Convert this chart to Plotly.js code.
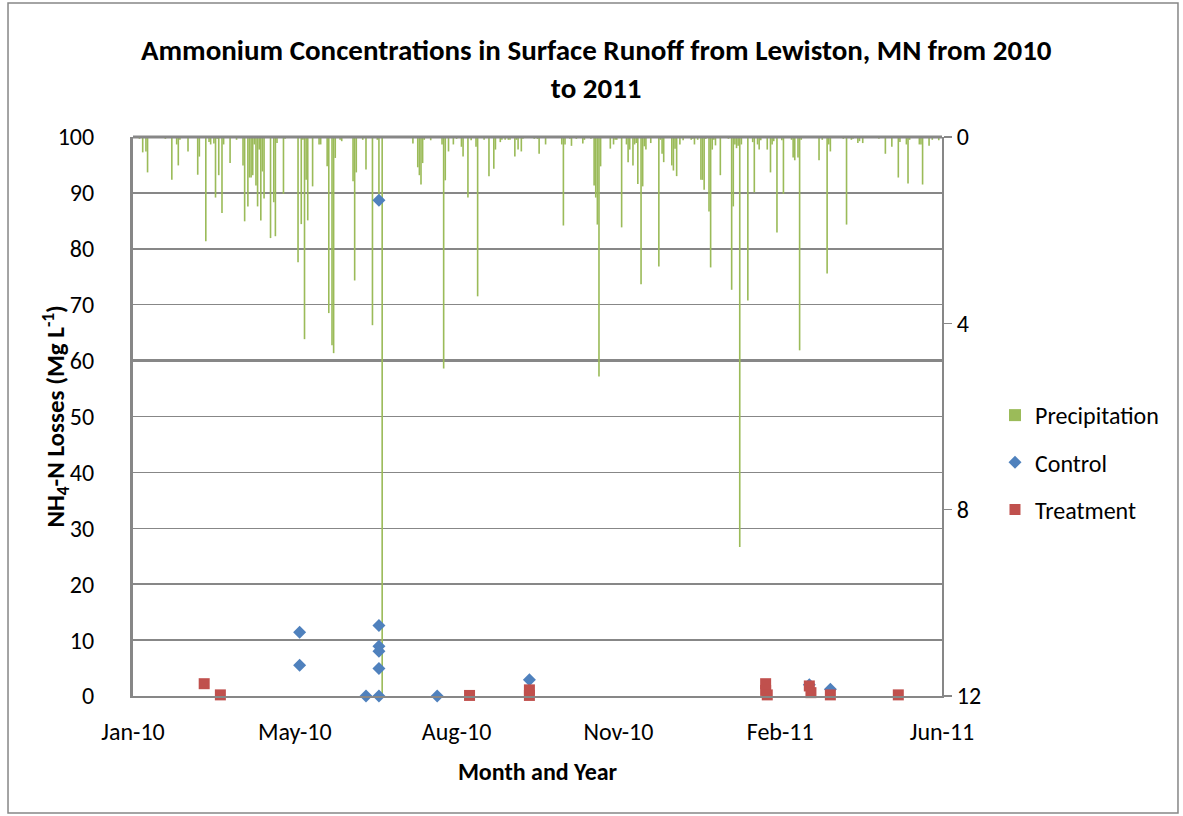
<!DOCTYPE html>
<html>
<head>
<meta charset="utf-8">
<script src="https://cdn.plot.ly/plotly-3.0.1.min.js"></script>
<style>html,body{margin:0;padding:0;background:#fff;}</style>
</head>
<body>
<div id="chart" style="width:1183px;height:816px;"></div>
<script>
// Day numbers count from 1 = 1 Jan 2010 (values above 365 run into 2011)
const precipDays = [28,30,32,33,44,48,51,52,53,58,64,65,69,71,72,74,75,76,77,79,80,84,88,92,93,95,96,97,98,99,100,101,102,103,104,105,109,111,112,113,117,118,126,128,129,130,131,132,135,139,140,144,145,147,148,149,152,153,160,161,162,166,168,172,175,176,178,
197,200,201,202,203,204,208,215,216,217,219,222,224,227,228,231,233,236,237,241,244,247,248,251,252,254,256,257,260,261,262,264,265,272,274,275,279,289,290,291,294,295,298,302,303,307,309,310,311,312,313,319,321,322,323,326,329,330,331,333,334,335,336,338,339,340,341,344,349,
350,351,352,357,358,359,360,362,364,369,370,371,373,375,376,377,378,380,381,382,383,384,387,392,394,395,396,397,398,399,400,404,407,408,410,411,412,416,418,419,420,422,425,426,431,432,433,435,436,437,448,450,453,454,455,463,465,468,469,472,473,475,485,489,493,497,498,502,503,504,510,511,512,516,518,522];
const precipInches = [0.04,0.33,0.31,0.76,0.04,0.92,0.16,0.61,0.06,0.31,0.81,0.42,2.24,0.11,0.16,0.14,1.3,0.04,0.82,1.63,0.16,0.56,0.06,0.61,1.81,1.49,0.87,0.87,0.82,0.16,1.04,1.49,0.27,1.79,0.74,1.32,2.17,1.4,2.13,0.13,1.22,0.04,2.69,1.87,0.06,4.34,0.92,1.79,1.06,0.16,0.16,0.63,3.78,4.47,4.64,0.45,0.06,0.09,0.95,3.08,0.76,0.06,0.70,4.04,0.06,1.24,12.5,
0.14,0.65,0.82,1.02,0.56,0.06,0.07,0.16,4.97,0.93,0.31,0.16,0.04,0.21,0.42,1.3,0.07,0.21,3.42,0.06,0.84,0.68,0.27,0.11,0.06,0.06,0.06,0.06,0.42,0.06,0.27,0.31,0.04,0.04,0.04,0.36,0.16,0.16,1.9,0.16,0.04,0.19,0.04,0.14,0.06,0.04,1.04,1.3,1.88,5.14,0.63,0.25,0.16,0.06,0.06,1.94,0.16,0.54,0.27,0.61,0.16,0.13,1.01,3.16,1.06,0.2,0.27,0.13,2.78,
0.06,0.36,0.54,0.61,0.72,0.25,0.84,0.16,0.07,0.06,0.04,0.16,0.06,0.92,0.92,1.13,0.04,1.6,2.8,0.27,0.06,0.18,0.82,0.04,3.28,1.49,0.16,0.24,0.19,8.8,0.16,3.51,0.11,1.19,0.16,0.27,0.07,0.27,0.76,0.16,0.09,2.05,0.07,1.22,0.06,0.44,0.5,0.44,4.58,0.06,0.5,0.06,2.93,0.16,0.31,0.04,1.88,0.06,0.04,0.13,0.09,0.13,0.04,0.36,0.21,0.87,0.11,0.16,1.0,0.06,0.16,0.16,1.02,0.19,0.06,0.07];

const controlDays = [127,127,168,176,176,176,176,176,176,212,269,442,455];
const controlValues = [11.4,5.5,0,88.7,12.6,8.9,8.0,4.9,0,0,2.9,2.0,1.2];

const treatmentDays = [68,78,232,269,269,415,415,416,442,443,455,497];
const treatmentValues = [2.2,0.2,0.1,1.1,0.1,2.2,1.0,0.2,1.8,0.6,0.2,0.2];

const xStart = '2010-01-24';
const xEnd = '2011-06-08';
const xTickStepDays = 100;
const leftRange = [0, 100];
const rightTicks = [0, 4, 8, 12];

const titleText = 'Ammonium Concentrations in Surface Runoff from Lewiston, MN from 2010<br>to 2011';
const yTitleText = 'NH<sub>4</sub>-N Losses (Mg L<sup>-1</sup>)';
const xTitleText = 'Month and Year';

function dayToDate(d) {
  return new Date(Date.UTC(2010, 0, d)).toISOString().slice(0, 10);
}

const FONT = "Carlito, 'Liberation Sans', Arial, sans-serif";
const GRID = '#878787';

const traces = [
  {
    type: 'bar', name: 'Precipitation', legendgroup: 'p',
    x: precipDays.map(dayToDate), y: precipInches,
    yaxis: 'y', width: 86400000,
    marker: {color: '#9BBB59', line: {width: 0}},
    hoverinfo: 'skip'
  },
  {
    type: 'scatter', mode: 'markers', name: 'Control', legendgroup: 'c',
    x: controlDays.map(dayToDate), y: controlValues, yaxis: 'y2',
    cliponaxis: false,
    marker: {symbol: 'diamond', size: 10, color: '#4F81BD'}
  },
  {
    type: 'scatter', mode: 'markers', name: 'Treatment', legendgroup: 't',
    x: treatmentDays.map(dayToDate), y: treatmentValues, yaxis: 'y2',
    cliponaxis: false,
    marker: {symbol: 'square', size: 11, color: '#C0504D'}
  }
];

const layout = {
  width: 1183, height: 816,
  margin: {l: 133, r: 241, t: 137, b: 120, autoexpand: false},
  paper_bgcolor: '#fff', plot_bgcolor: '#fff',
  font: {family: FONT, color: '#000', size: 24},
  showlegend: true,
  title: {
    text: titleText, font: {family: FONT, size: 29, color: '#000', weight: 'bold'},
    xref: 'container', x: 0.504, xanchor: 'center',
    yref: 'container', y: 0.926, yanchor: 'middle'
  },
  xaxis: {
    type: 'date', range: [xStart, xEnd], tick0: xStart, dtick: xTickStepDays * 86400000,
    tickformat: '%b-%y', ticks: '', ticklabelstandoff: 14,
    showgrid: false, zeroline: false, showline: true, linecolor: GRID, linewidth: 1.5,
    tickfont: {size: 24, family: FONT},
    title: {text: xTitleText, font: {size: 24, family: FONT, weight: 'bold'}, standoff: 18},
    automargin: false
  },
  yaxis: {
    side: 'right', range: [12, 0], tickvals: rightTicks,
    ticks: 'outside', ticklen: 8, tickwidth: 1.5, tickcolor: GRID,
    showline: true, linecolor: GRID, linewidth: 2,
    showgrid: false, zeroline: false,
    tickfont: {size: 24, family: FONT}, automargin: false
  },
  yaxis2: {
    overlaying: 'y', side: 'left', range: leftRange, dtick: 10,
    showgrid: true, gridcolor: GRID, gridwidth: 1.5,
    showline: true, linecolor: GRID, linewidth: 3,
    zeroline: false, ticks: '', ticklabelstandoff: 31,
    tickfont: {size: 24, family: FONT},
    automargin: false
  },
  annotations: [
    {text: yTitleText, textangle: -90, showarrow: false,
     xref: 'paper', yref: 'paper', x: -0.0964, y: 0.5, xanchor: 'center', yanchor: 'middle',
     font: {size: 25, family: FONT, color: '#000', weight: 'bold'}}
  ],
  legend: {
    x: 1.0655, xanchor: 'left', y: 0.542, yanchor: 'top',
    font: {size: 24, family: FONT}, tracegroupgap: 13,
    bgcolor: 'rgba(0,0,0,0)'
  },
  shapes: [
    {type: 'line', xref: 'paper', yref: 'paper', x0: 0, x1: 1, y0: 1, y1: 1,
     line: {color: GRID, width: 3}, layer: 'above'},
    {type: 'line', xref: 'paper', yref: 'paper', x0: 0, x1: 1, y0: 0.6, y1: 0.6,
     line: {color: GRID, width: 3}, layer: 'below'},
    {type: 'rect', xref: 'paper', yref: 'paper', x0: -0.1545, x1: 1.2917, y0: -0.2093, y1: 1.2397,
     line: {color: GRID, width: 1.5}, fillcolor: 'rgba(0,0,0,0)', layer: 'below'}
  ]
};

Plotly.newPlot('chart', traces, layout, {displayModeBar: false, staticPlot: true});
</script>
</body>
</html>
